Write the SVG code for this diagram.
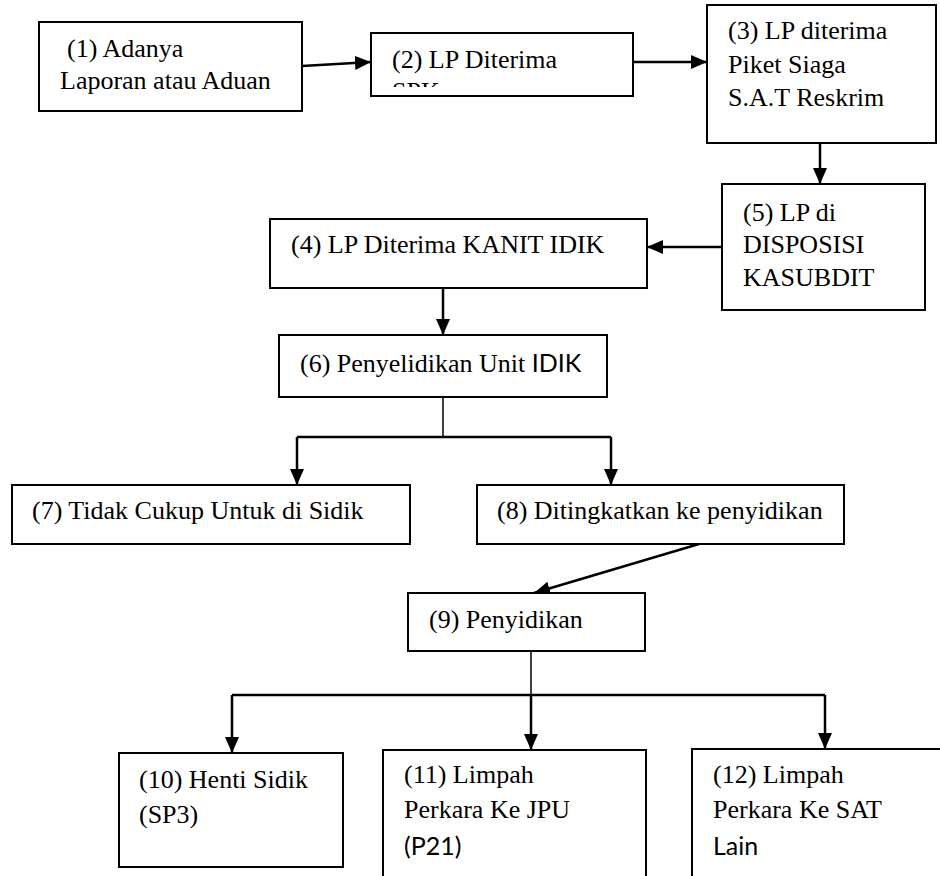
<svg xmlns="http://www.w3.org/2000/svg" width="940" height="876" viewBox="0 0 940 876">
<style>
.box{fill:#fff;stroke:#000;stroke-width:2}
.t{font-family:'Liberation Serif','Times New Roman',Tinos,'DejaVu Serif',serif;font-size:26px;fill:#000}
.s{font-family:Lato,'Liberation Sans',sans-serif;font-size:25px;fill:#000}
.arr{fill:none;stroke:#000;stroke-width:2.5;marker-end:url(#ah)}
.ln{fill:none;stroke:#000;stroke-width:1.5}
.ln2{fill:none;stroke:#000;stroke-width:2.5}
</style>
<defs>
<marker id="ah" viewBox="0 0 16 14" refX="16" refY="7" markerWidth="16" markerHeight="14" markerUnits="userSpaceOnUse" orient="auto">
<path d="M0,0 L16,7 L0,14 z" fill="#000"/>
</marker>
<clipPath id="c2"><rect x="372" y="34" width="260" height="53"/></clipPath>
</defs>
<rect width="940" height="876" fill="#fff"/>
<g id="connectors">
<path class="arr" d="M302,66 L371,62"/>
<path class="arr" d="M633,62 L707,62"/>
<path class="arr" d="M820,143 L820,184"/>
<path class="arr" d="M722,247 L647,247"/>
<path class="arr" d="M443,288 L443,335"/>
<path class="ln" d="M443,397 L443,437"/>
<path class="ln2" d="M297,437 L611,437"/>
<path class="arr" d="M297,437 L297,485"/>
<path class="arr" d="M611,437 L611,485"/>
<path class="arr" d="M699,544 L534,593"/>
<path class="ln" d="M531,651 L531,695"/>
<path class="ln2" d="M232,695 L825,695"/>
<path class="arr" d="M232,695 L232,753"/>
<path class="arr" d="M531,695 L531,750"/>
<path class="arr" d="M825,695 L825,749"/>
</g>
<g id="n1"><rect class="box" x="39" y="22" width="263" height="89"/>
<text class="t" x="67" y="57">(1) Adanya</text><text class="t" x="60" y="89">Laporan atau Aduan</text></g>
<g id="n2"><rect class="box" x="371" y="33" width="262" height="63"/>
<g clip-path="url(#c2)"><text class="t" x="392" y="68">(2) LP Diterima</text><text class="t" x="392" y="100">SPK</text></g></g>
<g id="n3"><rect class="box" x="707" y="5" width="229" height="138"/>
<text class="t" x="728" y="39">(3) LP diterima</text><text class="t" x="728" y="73">Piket Siaga</text><text class="t" x="728" y="106">S.A.T Reskrim</text></g>
<g id="n5"><rect class="box" x="722" y="184" width="203" height="126"/>
<text class="t" x="743" y="221">(5) LP di</text><text class="t" x="743" y="253">DISPOSISI</text><text class="t" x="743" y="286">KASUBDIT</text></g>
<g id="n4"><rect class="box" x="270" y="219" width="377" height="69"/>
<text class="t" x="291" y="253">(4) LP Diterima KANIT IDIK</text></g>
<g id="n6"><rect class="box" x="279" y="335" width="328" height="62"/>
<text class="t" x="300" y="372">(6) Penyelidikan Unit <tspan class="s" font-size="23">IDIK</tspan></text></g>
<g id="n7"><rect class="box" x="12" y="485" width="398" height="59"/>
<text class="t" x="32" y="519">(7) Tidak Cukup Untuk di Sidik</text></g>
<g id="n8"><rect class="box" x="477" y="485" width="367" height="59"/>
<text class="t" x="497" y="519">(8) Ditingkatkan ke penyidikan</text></g>
<g id="n9"><rect class="box" x="408" y="593" width="237" height="58"/>
<text class="t" x="429" y="628">(9) Penyidikan</text></g>
<g id="n10"><rect class="box" x="119" y="753" width="224" height="114"/>
<text class="t" x="139" y="788">(10) Henti Sidik</text><text class="t" x="139" y="823">(SP3)</text></g>
<g id="n11"><rect class="box" x="383" y="750" width="263" height="140"/>
<text class="t" x="404" y="783">(11) Limpah</text><text class="t" x="404" y="818">Perkara Ke JPU</text><text class="s" x="404" y="855">(P21)</text></g>
<g id="n12"><rect class="box" x="692" y="749" width="260" height="140"/>
<text class="t" x="713" y="783">(12) Limpah</text><text class="t" x="713" y="818">Perkara Ke SAT</text><text class="s" x="713" y="855">Lain</text></g>
</svg>
